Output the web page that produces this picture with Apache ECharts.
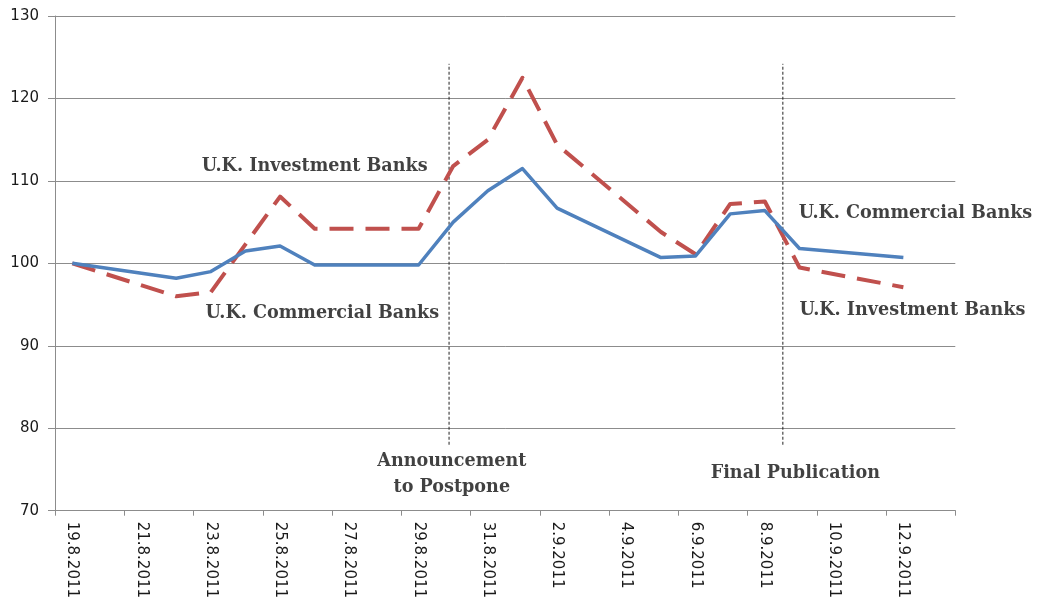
<!DOCTYPE html>
<html>
<head>
<meta charset="utf-8">
<script src="https://cdn.jsdelivr.net/npm/echarts@6/dist/echarts.min.js"></script>
<style>
html,body{margin:0;padding:0;background:#fff;}
#chart{width:1038px;height:603px;}
</style>
</head>
<body>
<div id="chart"></div>
<script>
// Calendar days shown on the category axis (one band per day)
const categories = [
  '19.8.2011','20.8.2011','21.8.2011','22.8.2011','23.8.2011','24.8.2011','25.8.2011',
  '26.8.2011','27.8.2011','28.8.2011','29.8.2011','30.8.2011','31.8.2011',
  '1.9.2011','2.9.2011','3.9.2011','4.9.2011','5.9.2011','6.9.2011','7.9.2011',
  '8.9.2011','9.9.2011','10.9.2011','11.9.2011','12.9.2011','13.9.2011'
];
// Trading days with observations
const tradingDays = [
  '19.8.2011','22.8.2011','23.8.2011','24.8.2011','25.8.2011','26.8.2011',
  '29.8.2011','30.8.2011','31.8.2011','1.9.2011','2.9.2011',
  '5.9.2011','6.9.2011','7.9.2011','8.9.2011','9.9.2011','12.9.2011'
];
const commercialBanks = [100.0, 98.2, 99.0, 101.5, 102.1, 99.8, 99.8, 105.0, 108.8, 111.5, 106.7, 100.7, 100.9, 106.0, 106.4, 101.8, 100.7];
const investmentBanks = [100.0, 96.0, 96.5, 102.3, 108.1, 104.2, 104.2, 111.8, 115.0, 122.5, 114.4, 103.8, 101.1, 107.2, 107.5, 99.5, 97.1];

const yTicks = { min: 70, max: 130, step: 10 };

// Event markers (position in days from 19.8.2011) and their vertical extent
const eventDays = [10.88, 20.52];
const eventSpan = [78.0, 124.2];

// Text annotations (day position, value position)
const annotationTexts = ['U.K. Investment Banks', 'U.K. Commercial Banks', 'U.K. Commercial Banks', 'U.K. Investment Banks', 'Announcement\nto Postpone', 'Final Publication'];
const annotationDays = [7.0, 7.22, 24.35, 24.26, 10.96, 20.88];
const annotationValues = [111.7, 93.94, 106.07, 94.34, 74.45, 74.57];

const chart = echarts.init(document.getElementById('chart'), null, { renderer: 'canvas' });

const gridColor = '#8c8c8c';
const labelFont = { fontFamily: 'DejaVu Sans', fontSize: 15, color: '#1a1a1a' };
const annoFont = { fontFamily: 'DejaVu Serif', fontWeight: 'bold', fontSize: 17.6, color: '#111111' };

const eventSeries = eventDays.map(d => ({
  type: 'line',
  xAxisIndex: 1,
  yAxisIndex: 0,
  data: [[d, eventSpan[0]], [d, eventSpan[1]]],
  symbol: 'none',
  silent: true,
  lineStyle: { color: '#222', width: 1, type: [3, 2] },
  z: 1
}));

const option = {
  animation: false,
  backgroundColor: '#fff',
  grid: { left: 55, right: 82.7, top: 16, bottom: 92.3, containLabel: false },
  xAxis: [
    {
      type: 'category',
      data: categories,
      boundaryGap: true,
      axisLine: { show: true, onZero: false, lineStyle: { color: gridColor, width: 1 } },
      axisTick: { show: true, interval: 1, length: 5, lineStyle: { color: gridColor } },
      axisLabel: Object.assign({ interval: 1, rotate: -90, margin: 11 }, labelFont),
      splitLine: { show: false }
    },
    {
      type: 'value',
      min: -0.5,
      max: categories.length - 0.5,
      show: false,
      splitLine: { show: false }
    }
  ],
  yAxis: {
    type: 'value',
    min: yTicks.min,
    max: yTicks.max,
    interval: yTicks.step,
    axisLine: { show: true, onZero: false, lineStyle: { color: gridColor, width: 1 } },
    axisTick: { show: true, length: 7, lineStyle: { color: gridColor } },
    axisLabel: Object.assign({ margin: 16 }, labelFont),
    splitLine: { show: true, lineStyle: { color: gridColor, width: 1 } }
  },
  series: [
    ...eventSeries,
    {
      name: 'U.K. Commercial Banks',
      type: 'line',
      xAxisIndex: 0,
      data: tradingDays.map((d, i) => [d, commercialBanks[i]]),
      symbol: 'none',
      lineStyle: { color: '#4f81bd', width: 3.5, join: 'round' },
      z: 3
    },
    {
      name: 'U.K. Investment Banks',
      type: 'line',
      xAxisIndex: 0,
      data: tradingDays.map((d, i) => [d, investmentBanks[i]]),
      symbol: 'none',
      lineStyle: { color: '#c0504d', width: 4, type: [24, 12], cap: 'butt', join: 'round' },
      z: 2
    },
    {
      type: 'scatter',
      xAxisIndex: 1,
      yAxisIndex: 0,
      symbolSize: 0,
      silent: true,
      data: annotationTexts.map((t, i) => ({ value: [annotationDays[i], annotationValues[i]], name: t })),
      label: Object.assign({
        show: true,
        position: 'inside',
        align: 'center',
        verticalAlign: 'middle',
        lineHeight: 26,
        formatter: p => p.name
      }, annoFont),
      z: 5
    }
  ]
};
chart.setOption(option);
</script>
</body>
</html>
